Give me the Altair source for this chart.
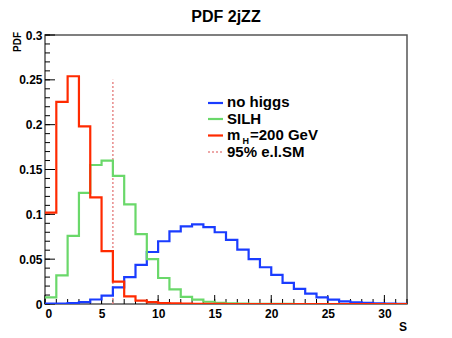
import altair as alt
import pandas as pd

# bin edges 0..32, values per unit bin
edges = list(range(0, 33))
no_higgs = [0.0005, 0.0005, 0.001, 0.002, 0.005, 0.0093, 0.0186, 0.030, 0.0436, 0.058,
            0.070, 0.081, 0.0865, 0.0887, 0.0857, 0.080, 0.0716, 0.0607, 0.050, 0.041,
            0.0324, 0.0235, 0.0168, 0.0116, 0.0075, 0.0048, 0.003, 0.0019, 0.0012, 0.0008,
            0.0005, 0.0003]
silh = [0.0075, 0.032, 0.076, 0.124, 0.155, 0.160, 0.143, 0.111, 0.078, 0.050,
        0.029, 0.0164, 0.008, 0.0048, 0.0025, 0.0012, 0.0006, 0.0004, 0.0003, 0.0002,
        0.0001, 0.0001, 0.0, 0.0, 0.0, 0.0, 0.0, 0.0, 0.0, 0.0, 0.0, 0.0]
mh200 = [0.102, 0.2255, 0.254, 0.198, 0.119, 0.059, 0.025, 0.0086, 0.0037, 0.002,
         0.001, 0.0006, 0.0004, 0.0003, 0.0002, 0.0001, 0.0, 0.0, 0.0, 0.0,
         0.0, 0.0, 0.0, 0.0, 0.0, 0.0, 0.0, 0.0, 0.0, 0.0, 0.0, 0.0]
cl95_x = 6.0
cl95_top = 0.25

x_major = [0, 5, 10, 15, 20, 25, 30]
x_minor = list(range(0, 33))
y_major = [0, 0.05, 0.1, 0.15, 0.2, 0.25, 0.3]
y_minor = [round(i * 0.01, 2) for i in range(0, 31)]

W, H = 362, 269
FONT = "Liberation Sans"

xs = alt.Scale(domain=[0, 32], nice=False, zero=False)
ys = alt.Scale(domain=[0, 0.3], nice=False, zero=False)
xax = alt.Axis(values=x_major, ticks=False, domain=False, grid=False,
               labelFont=FONT, labelFontWeight="bold", labelFontSize=12,
               labelColor="black", labelPadding=4, title=None)
yax = alt.Axis(values=y_major, ticks=False, domain=False, grid=False,
               format="~g", labelFont=FONT, labelFontWeight="bold",
               labelFontSize=12, labelColor="black", labelPadding=3, title=None)
X = lambda f="s": alt.X(f"{f}:Q", scale=xs, axis=xax)
Y = lambda f="pdf": alt.Y(f"{f}:Q", scale=ys, axis=yax)


def step_df(vals):
    return pd.DataFrame({"s": edges, "pdf": vals + [vals[-1]]})


def hist(vals, color):
    return alt.Chart(step_df(vals)).mark_line(
        interpolate="step-after", color=color, strokeWidth=2.2, clip=True
    ).encode(x=X(), y=Y())


xmin = alt.Chart(pd.DataFrame({"s": x_minor})).mark_rule(color="black", strokeWidth=1).encode(
    x=X(), y=alt.value(H), y2=alt.value(H - 5))
xmaj = alt.Chart(pd.DataFrame({"s": x_major})).mark_rule(color="black", strokeWidth=1).encode(
    x=X(), y=alt.value(H), y2=alt.value(H - 9))
ymin = alt.Chart(pd.DataFrame({"pdf": y_minor})).mark_rule(color="black", strokeWidth=1).encode(
    y=Y(), x=alt.value(0), x2=alt.value(5))
ymaj = alt.Chart(pd.DataFrame({"pdf": y_major})).mark_rule(color="black", strokeWidth=1).encode(
    y=Y(), x=alt.value(0), x2=alt.value(10))

cl = alt.Chart(pd.DataFrame({"s": [cl95_x], "pdf": [0.0], "y1": [cl95_top]})).mark_rule(
    color="#e88a8a", strokeWidth=1.5, strokeDash=[2, 2]).encode(
    x=X(), y=Y(), y2="y1:Q")

BLUE, GREEN, RED = "#1a3cff", "#6ad86a", "#ff2a00"


def leg_line(y, color, dash=None):
    kw = dict(color=color, strokeWidth=2.2)
    if dash:
        kw["strokeDash"] = dash
        kw["color"] = "#e88a8a"
        kw["strokeWidth"] = 1.5
    return alt.Chart(pd.DataFrame({"a": [0]})).mark_rule(**kw).encode(
        x=alt.value(163), x2=alt.value(178), y=alt.value(y))


def txt(text, x, y, size, align="left", angle=0):
    kw = dict(text=text, font=FONT, fontWeight="bold", fontSize=size, color="black",
              align=align, baseline="alphabetic")
    if angle:
        kw["angle"] = angle
    return alt.Chart(pd.DataFrame({"a": [0]})).mark_text(**kw).encode(
        x=alt.value(x), y=alt.value(y))


legend = [
    leg_line(68, BLUE), txt("no higgs", 182, 72, 15),
    leg_line(84, GREEN), txt("SILH", 182, 88.5, 15),
    leg_line(100.5, RED), txt("m", 182, 105, 15), txt("H", 197.5, 109, 9), txt("=200 GeV", 205, 105, 15),
    leg_line(117, None, dash=[2, 2]), txt("95% e.l.SM", 182, 121.5, 15),
]

title = txt("PDF 2jZZ", W / 2, -13, 16, align="center")
xtitle = txt("S", 362, 296, 12, align="right")
ytitle = txt("PDF", -24, -3, 10, align="right", angle=270)

chart = alt.layer(
    xmin, xmaj, ymin, ymaj, cl,
    hist(no_higgs, BLUE), hist(silh, GREEN), hist(mh200, RED),
    *legend, title, xtitle, ytitle,
).properties(
    width=W, height=H,
    autosize=alt.AutoSizeParams(type="none"),
    padding={"left": 37, "top": 27, "right": 37, "bottom": 30},
).configure_view(stroke="#555555", strokeWidth=1.5)

chart.save("out.html", embed_options={"renderer": "svg", "actions": False})
